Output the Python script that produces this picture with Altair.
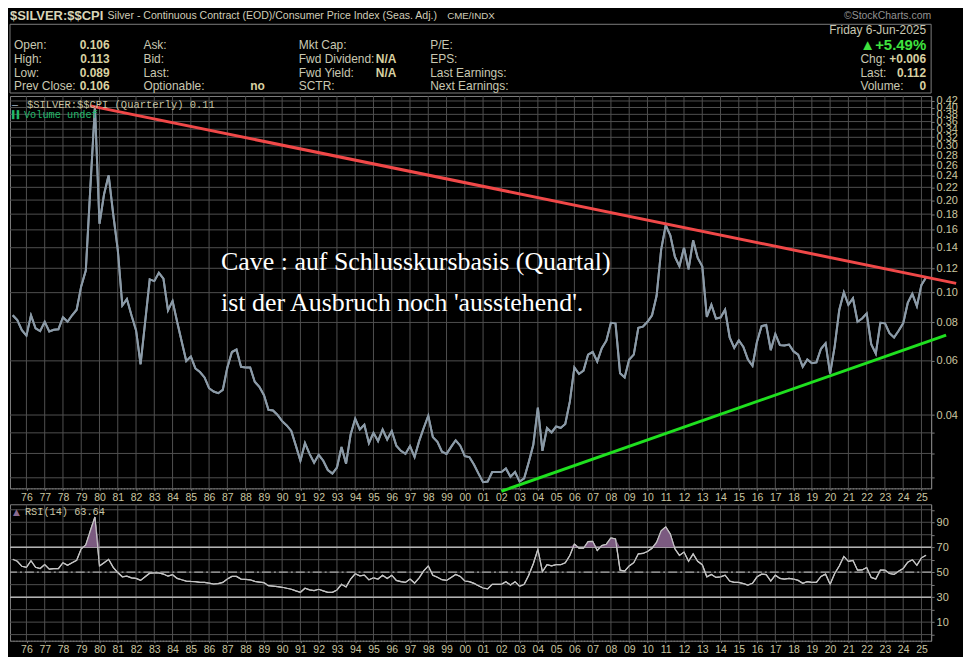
import altair as alt
import pandas as pd

# $SILVER:$$CPI quarterly closes, first point = Q2 1975, one value per quarter
first_quarter = 1975.25
silver_cpi = [
    0.0844, 0.0814, 0.0755,              # 1975 Q2-Q4
    0.0725, 0.0844, 0.0766, 0.0750,      # 1976
    0.0804, 0.0748, 0.0757, 0.0760,      # 1977
    0.0832, 0.0804, 0.0844, 0.0880,      # 1978
    0.1050, 0.1180, 0.2200, 0.4030,      # 1979
    0.1675, 0.2090, 0.2410, 0.1800,      # 1980
    0.1380, 0.0908, 0.0953, 0.0844,      # 1981
    0.0755, 0.0585, 0.0804, 0.1104,      # 1982
    0.1090, 0.1160, 0.1110, 0.0876,      # 1983
    0.0940, 0.0804, 0.0694, 0.0599,      # 1984
    0.0620, 0.0567, 0.0552, 0.0530,      # 1985
    0.0489, 0.0477, 0.0471, 0.0483,      # 1986
    0.0571, 0.0641, 0.0653, 0.0574,      # 1987
    0.0571, 0.0571, 0.0513, 0.0494,      # 1988
    0.0465, 0.0416, 0.0414, 0.0400,      # 1989
    0.0382, 0.0370, 0.0355, 0.0318,      # 1990
    0.0284, 0.0324, 0.0299, 0.0280,      # 1991
    0.0297, 0.0284, 0.0265, 0.0258,      # 1992
    0.0270, 0.0315, 0.0278, 0.0346,      # 1993
    0.0389, 0.0359, 0.0372, 0.0324,      # 1994
    0.0350, 0.0329, 0.0359, 0.0333,      # 1995
    0.0355, 0.0318, 0.0306, 0.0299,      # 1996
    0.0317, 0.0292, 0.0329, 0.0363,      # 1997
    0.0398, 0.0339, 0.0327, 0.0304,      # 1998
    0.0299, 0.0315, 0.0331, 0.0318,      # 1999
    0.0294, 0.0292, 0.0276, 0.0258,      # 2000
    0.0242, 0.0243, 0.0261, 0.0261,      # 2001
    0.0261, 0.0268, 0.0252, 0.0261,      # 2002
    0.0243, 0.0249, 0.0281, 0.0320,      # 2003
    0.0423, 0.0306, 0.0363, 0.0351,      # 2004
    0.0367, 0.0363, 0.0374, 0.0442,      # 2005
    0.0571, 0.0544, 0.0558, 0.0629,      # 2006
    0.0642, 0.0597, 0.0660, 0.0698,      # 2007
    0.0798, 0.0795, 0.0547, 0.0530,      # 2008
    0.0606, 0.0629, 0.0769, 0.0775,      # 2009
    0.0804, 0.0844, 0.0977, 0.1380,      # 2010
    0.1655, 0.1535, 0.1310, 0.1219,      # 2011
    0.1400, 0.1190, 0.1480, 0.1297,      # 2012
    0.1219, 0.0834, 0.0913, 0.0824,      # 2013
    0.0830, 0.0880, 0.0715, 0.0661,      # 2014
    0.0700, 0.0666, 0.0606, 0.0578,      # 2015
    0.0694, 0.0779, 0.0785, 0.0650,      # 2016
    0.0734, 0.0675, 0.0673, 0.0678,      # 2017
    0.0644, 0.0629, 0.0574, 0.0606,      # 2018
    0.0590, 0.0593, 0.0657, 0.0684,      # 2019
    0.0545, 0.0669, 0.0878, 0.1003,      # 2020
    0.0913, 0.0959, 0.0804, 0.0824,      # 2021
    0.0855, 0.0680, 0.0633, 0.0798,      # 2022
    0.0795, 0.0738, 0.0715, 0.0752,      # 2023
    0.0795, 0.0926, 0.0991, 0.0904,      # 2024
    0.1060, 0.1120,                      # 2025 Q1-Q2
]

# RSI(14), same quarters
rsi14 = [
    60.3, 58.7, 54.7,
    53.9, 59.2, 53.9, 52.9,
    56.1, 52.4, 52.9, 52.9,
    57.6, 55.5, 57.6, 59.5,
    68.7, 71.8, 83.2, 94.2,
    55.0, 57.6, 60.3, 53.9,
    49.7, 46.3, 46.8, 45.5,
    45.0, 43.4, 46.3, 49.2,
    49.5, 49.5, 48.5, 46.8,
    48.0, 45.0, 43.9, 42.9,
    42.6, 42.4, 41.8, 41.8,
    41.3, 40.5, 40.8, 41.8,
    44.5, 46.6, 46.6, 44.5,
    44.2, 43.9, 42.6, 42.1,
    41.6, 39.2, 38.9, 38.4,
    37.9, 37.1, 36.3, 35.0,
    33.9, 37.1, 35.8, 35.3,
    36.3, 35.0, 33.9, 33.9,
    35.8, 40.3, 38.2, 44.5,
    48.7, 47.1, 47.6, 43.9,
    45.5, 44.5, 47.6, 45.0,
    47.6, 43.4, 42.4, 41.8,
    44.5, 41.3, 45.5, 51.0,
    55.0, 47.6, 46.0, 44.0,
    43.4, 45.8, 48.2, 46.6,
    42.9, 42.4, 41.0, 39.2,
    37.3, 36.6, 40.3, 40.3,
    40.3, 42.4, 39.7, 42.4,
    38.7, 40.3, 47.6, 56.8,
    68.2, 50.3, 56.0, 55.0,
    56.0, 56.0, 57.6, 63.4,
    72.6, 69.2, 69.2, 74.5,
    74.7, 67.4, 71.3, 72.4,
    77.4, 76.6, 51.6, 50.8,
    55.0, 57.6, 64.7, 65.0,
    66.6, 69.2, 73.9, 83.2,
    86.3, 80.5, 68.7, 63.4,
    66.1, 58.7, 64.7, 58.7,
    56.0, 46.3, 48.2, 45.8,
    46.3, 47.6, 42.9, 41.8,
    41.8, 40.8, 39.7, 41.1,
    46.3, 48.4, 48.0, 42.9,
    47.6, 45.0, 44.5, 45.0,
    44.5, 43.4, 41.1, 42.4,
    41.8, 41.8, 46.6, 48.4,
    40.3, 48.9, 55.0, 62.6,
    58.7, 59.5, 51.6, 51.8,
    53.7, 45.8, 44.5, 51.6,
    51.6, 48.9, 48.2, 50.8,
    53.0, 58.0, 60.0, 55.5,
    61.5, 63.64,
]

# hand-drawn trend lines (year, value)
red_x = [1979.5, 2026.9]
red_y = [0.405, 0.1072]
green_x = [2002.0, 2026.35]
green_y = [0.0226, 0.0728]

years = list(range(1976, 2026))
price_ticks = [0.025, 0.03, 0.035] + [round(0.04 + 0.02 * k, 2) for k in range(20)]
rsi_ticks = list(range(0, 101, 10))

BG = '#000000'
FRAME = '#7d7d7d'
GRID = '#505050'
AXIS_TXT = '#cbc6a0'
LBL = '#c9c8b2'
VAL = '#d8d1a2'
MONO = 'Liberation Mono, DejaVu Sans Mono, monospace'
W = 925
H_HEAD = 82
H_PRICE = 394
H_RSI = 137

df = pd.DataFrame({
    't': [first_quarter + 0.25 * i for i in range(len(silver_cpi))],
    'price': silver_cpi,
    'rsi': rsi14,
})


def txt(s, x, y, size=12, color=LBL, weight='normal', align='left',
        font='Liberation Sans', baseline='middle'):
    return alt.Chart(pd.DataFrame({'s': [s]})).mark_text(
        align=align, baseline=baseline, fontSize=size, fontWeight=weight,
        color=color, font=font
    ).encode(x=alt.value(x), y=alt.value(y), text='s:N')


# header / info box
box = alt.Chart(pd.DataFrame({'a': [0]})).mark_rect(
    fillOpacity=0, stroke=FRAME, strokeWidth=1
).encode(x=alt.value(0), x2=alt.value(W), y=alt.value(13), y2=alt.value(H_HEAD))

rows = [33.5, 47.5, 61.5, 75]
head_layers = [
    box,
    txt('$SILVER:$$CPI', 0, 4.5, size=13, weight='bold', color='#d9d5b8'),
    txt('Silver - Continuous Contract (EOD)/Consumer Price Index (Seas. Adj.)', 98, 5, size=10.6, color='#d0cdb8'),
    txt('CME/INDX', 439, 5, size=9.8, color='#d0cdb8'),
    txt('\u00a9StockCharts.com', W, 5, size=10.5, color='#929292', align='right'),
    txt('Friday  6-Jun-2025', W - 5, 19, color=LBL, align='right'),
    txt('\u25b2+5.49%', W - 5, rows[0], size=15, weight='bold', color='#3fe33f', align='right'),
    txt('Chg:', W - 71, rows[1]), txt('+0.006', W - 5, rows[1], weight='bold', color=VAL, align='right'),
    txt('Last:', W - 71, rows[2]), txt('0.112', W - 5, rows[2], weight='bold', color=VAL, align='right'),
    txt('Volume:', W - 71, rows[3]), txt('0', W - 5, rows[3], weight='bold', color=VAL, align='right'),
]
col1 = [('Open:', '0.106'), ('High:', '0.113'), ('Low:', '0.089'), ('Prev Close:', '0.106')]
for (lab, v), y in zip(col1, rows):
    head_layers += [txt(lab, 4, y), txt(v, 100, y, weight='bold', color=VAL, align='right')]
for lab, y in zip(['Ask:', 'Bid:', 'Last:', 'Optionable:'], rows):
    head_layers.append(txt(lab, 134, y))
head_layers.append(txt('no', 256, rows[3], weight='bold', color=VAL, align='right'))
for lab, y in zip(['Mkt Cap:', 'Fwd Dividend:', 'Fwd Yield:', 'SCTR:'], rows):
    head_layers.append(txt(lab, 290, y))
head_layers += [txt('N/A', 388, rows[1], weight='bold', color=VAL, align='right'),
                txt('N/A', 388, rows[2], weight='bold', color=VAL, align='right')]
for lab, y in zip(['P/E:', 'EPS:', 'Last Earnings:', 'Next Earnings:'], rows):
    head_layers.append(txt(lab, 422, y))

header = alt.layer(*head_layers).properties(
    width=W, height=H_HEAD, view=alt.ViewBackground(stroke='transparent'))

year_label = "(datum.value % 100 < 10 ? '0' : '') + (datum.value % 100)"
x_scale = alt.Scale(domain=[1975.1, 2025.53], nice=False, zero=False)
x_axis = alt.Axis(values=years, labelExpr=year_label, grid=False, labelFlush=False,
                  labelOverlap=False, domainDash=[1, 2], tickSize=2, labelPadding=2, title=None)
p_scale = alt.Scale(type='log', domain=[0.0231, 0.436], nice=False)
p_axis = alt.Axis(orient='right', values=price_ticks, labelOverlap=False, grid=False,
                  labelExpr="datum.value >= 0.039 ? format(datum.value, '.2f') : ''",
                  labelFontSize=11, tickSize=3, title=None)
r_scale = alt.Scale(domain=[-4.9, 104.4], nice=False, zero=False)
r_axis = alt.Axis(orient='right', values=rsi_ticks, labelOverlap=False, grid=False,
                  labelExpr="datum.value % 20 == 10 ? '' + datum.value : ''",
                  labelFontSize=11, tickSize=3, title=None)


def xq(field='t'):
    return alt.X(field + ':Q', scale=x_scale, axis=x_axis)


# price panel
price_line = alt.Chart(df).mark_line(color='#8b9aa7', strokeWidth=2).encode(
    x=xq(), y=alt.Y('price:Q', scale=p_scale, axis=p_axis))
vgrid = alt.Chart(pd.DataFrame({'t': years})).mark_rule(color=GRID, strokeWidth=1).encode(x=xq())
hgrid = alt.Chart(pd.DataFrame({'price': price_ticks})).mark_rule(color=GRID, strokeWidth=1).encode(
    y=alt.Y('price:Q', scale=p_scale, axis=p_axis))
red = alt.Chart(pd.DataFrame({'t': red_x, 'price': red_y})).mark_line(
    color='#f04848', strokeWidth=3).encode(x=xq(), y=alt.Y('price:Q', scale=p_scale, axis=p_axis))
green = alt.Chart(pd.DataFrame({'t': green_x, 'price': green_y})).mark_line(
    color='#1fe01f', strokeWidth=3).encode(x=xq(), y=alt.Y('price:Q', scale=p_scale, axis=p_axis))

price_legend = [
    txt('\u2014', 2, 9, size=10, color='#8b9aa7', font=MONO, weight='bold'),
    txt('$SILVER:$$CPI (Quarterly) 0.11', 17, 9, size=10.5, color='#c8c4a4', font=MONO),
    txt('\u258c\u258c', 2, 19, size=8, color='#22b86a', font=MONO),
    txt('Volume undef', 14, 19, size=10.3, color='#22b86a', font=MONO),
]
note = [
    txt('Cave : auf Schlusskursbasis (Quartal)', 212, 175, size=26, color='#ffffff',
        font='Liberation Serif', baseline='alphabetic'),
    txt("ist der Ausbruch noch 'ausstehend'.", 212, 216, size=26, color='#ffffff',
        font='Liberation Serif', baseline='alphabetic'),
]
price = alt.layer(price_line, vgrid, hgrid, price_line, red, green, *price_legend, *note).properties(
    width=W, height=H_PRICE)

# RSI panel
rsi_base = alt.Chart(df).transform_calculate(hi='max(datum.rsi, 70)')
rsi_line = rsi_base.mark_line(color='#c4c4c4', strokeWidth=1.2).encode(
    x=xq(), y=alt.Y('rsi:Q', scale=r_scale, axis=r_axis))
rsi_fill = rsi_base.mark_area(color='#7b5a80', opacity=1).encode(
    x=xq(), y=alt.Y('hi:Q', scale=r_scale, axis=r_axis), y2=alt.datum(70))
rvgrid = alt.Chart(pd.DataFrame({'t': years})).mark_rule(color=GRID, strokeWidth=1).encode(x=xq())
rhgrid = alt.Chart(pd.DataFrame({'lv': rsi_ticks})).mark_rule(color=GRID, strokeWidth=1).encode(
    y=alt.Y('lv:Q', scale=r_scale, axis=r_axis))
rsi_bands = alt.Chart(pd.DataFrame({'lv': [30, 70]})).mark_rule(color='#b2b2b2', strokeWidth=1.5).encode(
    y=alt.Y('lv:Q', scale=r_scale, axis=r_axis))
rsi_mid = alt.Chart(pd.DataFrame({'lv': [50]})).mark_rule(
    color='#a8a8a8', strokeWidth=1.3, strokeDash=[9, 3, 2, 3]).encode(
    y=alt.Y('lv:Q', scale=r_scale, axis=r_axis))
rsi_legend = [
    txt('\u25b2', 3, 7.5, size=9, color='#8a6a90', font='DejaVu Sans'),
    txt('RSI(14) 63.64', 15, 7.5, size=10.3, color='#c8c4a4', font=MONO),
]
rsi = alt.layer(rsi_line, rvgrid, rhgrid, rsi_bands, rsi_mid, rsi_fill, rsi_line, *rsi_legend).properties(
    width=W, height=H_RSI)

chart = alt.vconcat(header, price, rsi, spacing=0, padding=0).configure(
    background=BG
).configure_view(
    stroke=FRAME, strokeWidth=1
).configure_axis(
    labelColor=AXIS_TXT, labelFont='Liberation Sans', labelFontSize=10.5,
    domainColor=FRAME, tickColor=FRAME
)

chart.save("out.html", embed_options={"renderer": "svg", "actions": False})
